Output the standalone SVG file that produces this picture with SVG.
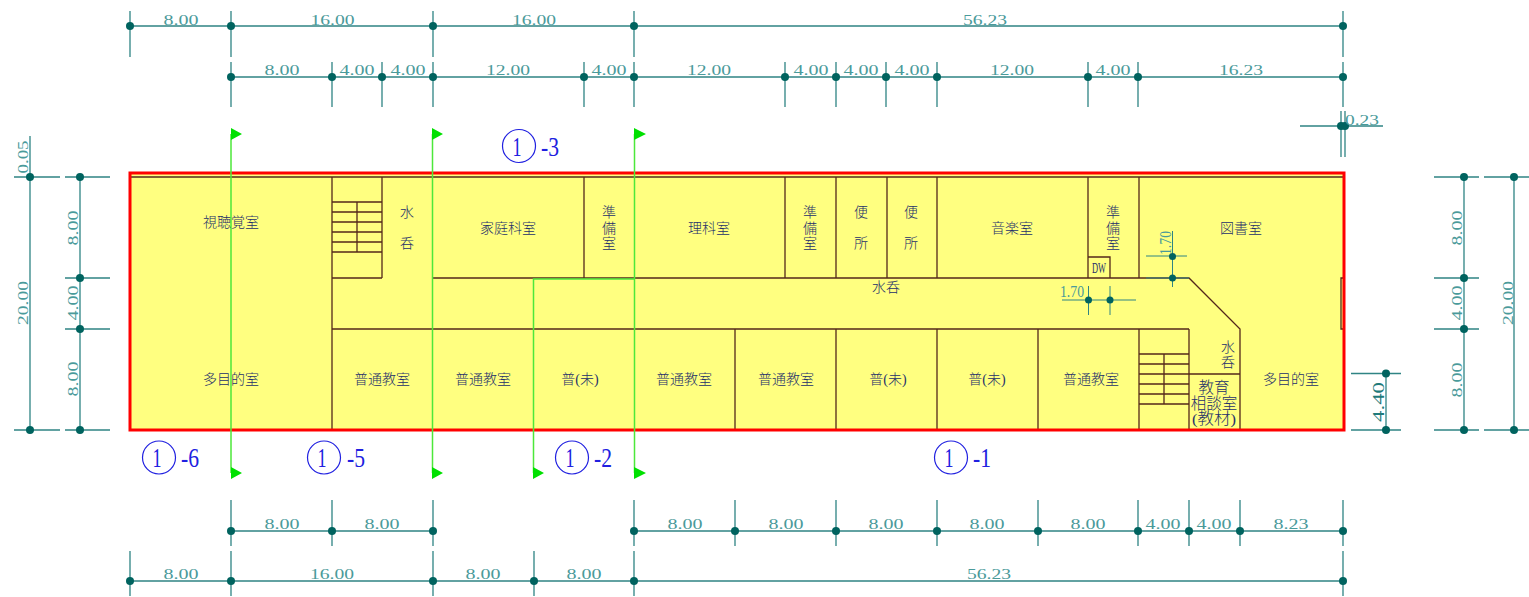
<svg xmlns="http://www.w3.org/2000/svg" width="1529" height="597" viewBox="0 0 1529 597">
<style>
.bg{fill:#fff}
.w{fill:none;stroke:#54281a;stroke-width:1.3}
.dl{fill:none;stroke:#2f8484;stroke-width:1.3}
.d{fill:#00635f}
.dt{font-family:"Liberation Serif",serif;font-size:15px;fill:#4a9a9a;text-anchor:middle}
.r{font-family:"Liberation Serif","Noto Sans CJK JP",sans-serif;font-size:14px;font-weight:300;fill:#25306a;text-anchor:middle}
.sec{fill:none;stroke:#4de83a;stroke-width:1.5}
.fl{fill:#00e000}
.c{fill:none;stroke:#2020e0;stroke-width:1.2}
.ct{font-family:"Liberation Serif",serif;font-size:27px;fill:#2020e0;text-anchor:middle}
</style>
<rect class="bg" width="1529" height="597"/>
<g id="plan">
<rect x="130" y="173" width="1214" height="257" fill="#ffff80"/>
<path class="w" d="M130 177H1344M332 177V430M382 177V278M332 278H382M332 202H382M332 212H382M332 222H382M332 232H382M332 242H382M332 252H382M357 202V252"/>
<path class="w" d="M433 278H1189L1240 329V430M332 329H1189M584 177V278M785 177V278M836 177V278M887 177V278M937 177V278M1088 177V278M1139 177V278M735 329V430M836 329V430M937 329V430M1038 329V430M1139 329V430M1189 329V430M1189 374H1240"/>
<path class="w" d="M1139 354H1189M1139 364H1189M1139 374H1189M1139 384H1189M1139 394H1189M1139 404H1189M1164 354V404M1088 257H1110V278M1344 278H1341V329H1344"/>
<rect x="130" y="173" width="1214" height="257" fill="none" stroke="#f00" stroke-width="3"/>
</g>
<g id="sections">
<path class="sec" d="M231 134V473M432.500 134V473M634.500 134V473M533.500 473V279H634"/>
<path class="fl" d="M231 128L242 134 231 140ZM432 128L443 134 432 140ZM634 128L646 134 634 140ZM231 467L242 473 231 479ZM432 467L443 473 432 479ZM634 467L646 473 634 479ZM533 467L544 473 533 479Z"/>
<circle class="c" cx="519" cy="146" r="16.500"/><text class="ct" x="517" y="155.500" textLength="9" lengthAdjust="spacingAndGlyphs">1</text><text class="ct" x="550" y="155.500" textLength="18" lengthAdjust="spacingAndGlyphs">-3</text>
<circle class="c" cx="159" cy="457.500" r="16.500"/><text class="ct" x="157" y="466.500" textLength="9" lengthAdjust="spacingAndGlyphs">1</text><text class="ct" x="190" y="466.500" textLength="18" lengthAdjust="spacingAndGlyphs">-6</text>
<circle class="c" cx="324" cy="457.500" r="16.500"/><text class="ct" x="322" y="466.500" textLength="9" lengthAdjust="spacingAndGlyphs">1</text><text class="ct" x="356" y="466.500" textLength="18" lengthAdjust="spacingAndGlyphs">-5</text>
<circle class="c" cx="572" cy="457.500" r="16.500"/><text class="ct" x="570" y="466.500" textLength="9" lengthAdjust="spacingAndGlyphs">1</text><text class="ct" x="603" y="466.500" textLength="18" lengthAdjust="spacingAndGlyphs">-2</text>
<circle class="c" cx="951" cy="457.500" r="16.500"/><text class="ct" x="949" y="466.500" textLength="9" lengthAdjust="spacingAndGlyphs">1</text><text class="ct" x="982" y="466.500" textLength="18" lengthAdjust="spacingAndGlyphs">-1</text>
</g>
<g id="rooms">
<text class="r" x="231" y="227">視聴覚室</text>
<text class="r" x="231" y="384">多目的室</text>
<text class="r" x="407" y="217">水</text><text class="r" x="407" y="248">呑</text>
<text class="r" x="508" y="233">家庭科室</text>
<text class="r" x="609" y="217">準</text><text class="r" x="609" y="233">備</text><text class="r" x="609" y="248">室</text>
<text class="r" x="709" y="233">理科室</text>
<text class="r" x="810" y="217">準</text><text class="r" x="810" y="233">備</text><text class="r" x="810" y="248">室</text>
<text class="r" x="861" y="217">便</text><text class="r" x="861" y="248">所</text>
<text class="r" x="911" y="217">便</text><text class="r" x="911" y="248">所</text>
<text class="r" x="1012" y="233">音楽室</text>
<text class="r" x="1113" y="217">準</text><text class="r" x="1113" y="233">備</text><text class="r" x="1113" y="248">室</text>
<text class="r" x="1241" y="233">図書室</text>
<text class="r" x="886" y="292">水呑</text>
<text class="r" x="1099" y="273" style="font-size:14px" textLength="14" lengthAdjust="spacingAndGlyphs">DW</text>
<text class="r" x="382" y="384">普通教室</text>
<text class="r" x="483" y="384">普通教室</text>
<text class="r" x="580" y="384">普(未)</text>
<text class="r" x="684" y="384">普通教室</text>
<text class="r" x="786" y="384">普通教室</text>
<text class="r" x="888" y="384">普(未)</text>
<text class="r" x="987" y="384">普(未)</text>
<text class="r" x="1091" y="384">普通教室</text>
<text class="r" x="1228" y="352">水</text><text class="r" x="1228" y="367">呑</text>
<text class="r" x="1214" y="392.500" style="font-size:15.500px">教育</text>
<text class="r" x="1214" y="408.500" style="font-size:15.500px">相談室</text>
<text class="r" x="1214" y="424" style="font-size:15.500px" textLength="44" lengthAdjust="spacingAndGlyphs">(教材)</text>
<text class="r" x="1291" y="384">多目的室</text>
</g>
<g id="dimensions">
<path class="dl" d="M130 26H1343M130 11V57M231 11V57M433 11V57M634 11V57M1343 11V57"/>
<path class="dl" d="M231 77H1343M231 62V107M332 62V107M382 62V107M433 62V107M584 62V107M634 62V107M785 62V107M836 62V107M886 62V107M937 62V107M1088 62V107M1138 62V107M1343 62V107"/>
<path class="dl" d="M231 531H433M634 531H1343M231 500V546M332 500V546M433 500V546M634 500V546M735 500V546M836 500V546M937 500V546M1038 500V546M1138 500V546M1189 500V546M1240 500V546M1343 500V546"/>
<path class="dl" d="M130 581H1343M130 551V596M231 551V596M433 551V596M534 551V596M634 551V596M1343 551V596"/>
<path class="dl" d="M30 136V430M14 177H60M14 430H60M80 177V430M65 177H110M65 278H110M65 329H110M65 430H110"/>
<path class="dl" d="M1464 177V430M1434 177H1479M1434 278H1479M1434 329H1479M1434 430H1479M1514 177V430M1484 177H1529M1484 430H1529"/>
<path class="dl" d="M1300 126H1383M1341 111V157M1345 111V157M1386 373.500V430M1351 373.500H1401M1351 430H1401"/>
<path class="dl" style="stroke-width:1" d="M1172.500 231V287M1146 256H1187M1146 278H1189M1062 300H1136M1088.500 286V315M1110 286V315"/>
<g class="d">
<circle cx="130" cy="26" r="4"/><circle cx="231" cy="26" r="4"/><circle cx="433" cy="26" r="4"/><circle cx="634" cy="26" r="4"/><circle cx="1343" cy="26" r="4"/>
<circle cx="231" cy="77" r="4"/><circle cx="332" cy="77" r="4"/><circle cx="382" cy="77" r="4"/><circle cx="433" cy="77" r="4"/><circle cx="584" cy="77" r="4"/><circle cx="634" cy="77" r="4"/><circle cx="785" cy="77" r="4"/><circle cx="836" cy="77" r="4"/><circle cx="886" cy="77" r="4"/><circle cx="937" cy="77" r="4"/><circle cx="1088" cy="77" r="4"/><circle cx="1138" cy="77" r="4"/><circle cx="1343" cy="77" r="4"/>
<circle cx="231" cy="531" r="4"/><circle cx="332" cy="531" r="4"/><circle cx="433" cy="531" r="4"/><circle cx="634" cy="531" r="4"/><circle cx="735" cy="531" r="4"/><circle cx="836" cy="531" r="4"/><circle cx="937" cy="531" r="4"/><circle cx="1038" cy="531" r="4"/><circle cx="1138" cy="531" r="4"/><circle cx="1189" cy="531" r="4"/><circle cx="1240" cy="531" r="4"/><circle cx="1343" cy="531" r="4"/>
<circle cx="130" cy="581" r="4"/><circle cx="231" cy="581" r="4"/><circle cx="433" cy="581" r="4"/><circle cx="534" cy="581" r="4"/><circle cx="634" cy="581" r="4"/><circle cx="1343" cy="581" r="4"/>
<circle cx="30" cy="177" r="4"/><circle cx="30" cy="430" r="4"/><circle cx="80" cy="177" r="4"/><circle cx="80" cy="278" r="4"/><circle cx="80" cy="329" r="4"/><circle cx="80" cy="430" r="4"/>
<circle cx="1464" cy="177" r="4"/><circle cx="1464" cy="278" r="4"/><circle cx="1464" cy="329" r="4"/><circle cx="1464" cy="430" r="4"/><circle cx="1514" cy="177" r="4"/><circle cx="1514" cy="430" r="4"/>
<circle cx="1341" cy="126" r="4"/><circle cx="1345" cy="126" r="4"/><circle cx="1386" cy="373.500" r="4"/><circle cx="1386" cy="430" r="4"/>
<circle cx="1172.500" cy="256.500" r="3.500"/><circle cx="1172.500" cy="278" r="3.500"/><circle cx="1088.500" cy="300" r="3.500"/><circle cx="1110" cy="300" r="3.500"/>
</g>
<g>
<text class="dt" x="181" y="24.500" textLength="35" lengthAdjust="spacingAndGlyphs">8.00</text><text class="dt" x="332.500" y="24.500" textLength="44" lengthAdjust="spacingAndGlyphs">16.00</text><text class="dt" x="534" y="24.500" textLength="44" lengthAdjust="spacingAndGlyphs">16.00</text><text class="dt" x="985" y="24.500" textLength="44" lengthAdjust="spacingAndGlyphs">56.23</text>
<text class="dt" x="282" y="75" textLength="35" lengthAdjust="spacingAndGlyphs">8.00</text><text class="dt" x="357" y="75" textLength="35" lengthAdjust="spacingAndGlyphs">4.00</text><text class="dt" x="408" y="75" textLength="35" lengthAdjust="spacingAndGlyphs">4.00</text><text class="dt" x="508" y="75" textLength="44" lengthAdjust="spacingAndGlyphs">12.00</text><text class="dt" x="609" y="75" textLength="35" lengthAdjust="spacingAndGlyphs">4.00</text><text class="dt" x="709" y="75" textLength="44" lengthAdjust="spacingAndGlyphs">12.00</text><text class="dt" x="811" y="75" textLength="35" lengthAdjust="spacingAndGlyphs">4.00</text><text class="dt" x="861" y="75" textLength="35" lengthAdjust="spacingAndGlyphs">4.00</text><text class="dt" x="912" y="75" textLength="35" lengthAdjust="spacingAndGlyphs">4.00</text><text class="dt" x="1012" y="75" textLength="44" lengthAdjust="spacingAndGlyphs">12.00</text><text class="dt" x="1113" y="75" textLength="35" lengthAdjust="spacingAndGlyphs">4.00</text><text class="dt" x="1241" y="75" textLength="44" lengthAdjust="spacingAndGlyphs">16.23</text>
<text class="dt" x="282" y="529" textLength="35" lengthAdjust="spacingAndGlyphs">8.00</text><text class="dt" x="382" y="529" textLength="35" lengthAdjust="spacingAndGlyphs">8.00</text><text class="dt" x="685" y="529" textLength="35" lengthAdjust="spacingAndGlyphs">8.00</text><text class="dt" x="786" y="529" textLength="35" lengthAdjust="spacingAndGlyphs">8.00</text><text class="dt" x="886" y="529" textLength="35" lengthAdjust="spacingAndGlyphs">8.00</text><text class="dt" x="987" y="529" textLength="35" lengthAdjust="spacingAndGlyphs">8.00</text><text class="dt" x="1088" y="529" textLength="35" lengthAdjust="spacingAndGlyphs">8.00</text><text class="dt" x="1163" y="529" textLength="35" lengthAdjust="spacingAndGlyphs">4.00</text><text class="dt" x="1214" y="529" textLength="35" lengthAdjust="spacingAndGlyphs">4.00</text><text class="dt" x="1291" y="529" textLength="35" lengthAdjust="spacingAndGlyphs">8.23</text>
<text class="dt" x="181" y="579" textLength="35" lengthAdjust="spacingAndGlyphs">8.00</text><text class="dt" x="332" y="579" textLength="44" lengthAdjust="spacingAndGlyphs">16.00</text><text class="dt" x="483" y="579" textLength="35" lengthAdjust="spacingAndGlyphs">8.00</text><text class="dt" x="584" y="579" textLength="35" lengthAdjust="spacingAndGlyphs">8.00</text><text class="dt" x="989" y="579" textLength="44" lengthAdjust="spacingAndGlyphs">56.23</text>
<text class="dt" x="1362" y="125" textLength="34" lengthAdjust="spacingAndGlyphs">0.23</text>
<text class="dt" x="1072" y="297" style="font-size:16px" textLength="24" lengthAdjust="spacingAndGlyphs">1.70</text>
<text class="dt" transform="rotate(-90 1171 243)" x="1171" y="243" style="font-size:16px" textLength="24" lengthAdjust="spacingAndGlyphs">1.70</text>
<text class="dt" transform="rotate(-90 28 157)" x="28" y="157" textLength="33" lengthAdjust="spacingAndGlyphs">0.05</text>
<text class="dt" transform="rotate(-90 28 303)" x="28" y="303" textLength="44" lengthAdjust="spacingAndGlyphs">20.00</text>
<text class="dt" transform="rotate(-90 78 228)" x="78" y="228" textLength="35" lengthAdjust="spacingAndGlyphs">8.00</text>
<text class="dt" transform="rotate(-90 78 303)" x="78" y="303" textLength="35" lengthAdjust="spacingAndGlyphs">4.00</text>
<text class="dt" transform="rotate(-90 78 379)" x="78" y="379" textLength="35" lengthAdjust="spacingAndGlyphs">8.00</text>
<text class="dt" transform="rotate(-90 1462 228)" x="1462" y="228" textLength="35" lengthAdjust="spacingAndGlyphs">8.00</text>
<text class="dt" transform="rotate(-90 1462 303)" x="1462" y="303" textLength="35" lengthAdjust="spacingAndGlyphs">4.00</text>
<text class="dt" transform="rotate(-90 1462 380)" x="1462" y="380" textLength="35" lengthAdjust="spacingAndGlyphs">8.00</text>
<text class="dt" transform="rotate(-90 1513 303)" x="1513" y="303" textLength="44" lengthAdjust="spacingAndGlyphs">20.00</text>
<text class="dt" transform="rotate(-90 1384 402)" x="1384" y="402" style="fill:#1f7a7a;font-size:16px" textLength="40" lengthAdjust="spacingAndGlyphs">4.40</text>
</g>
</g>
</svg>
